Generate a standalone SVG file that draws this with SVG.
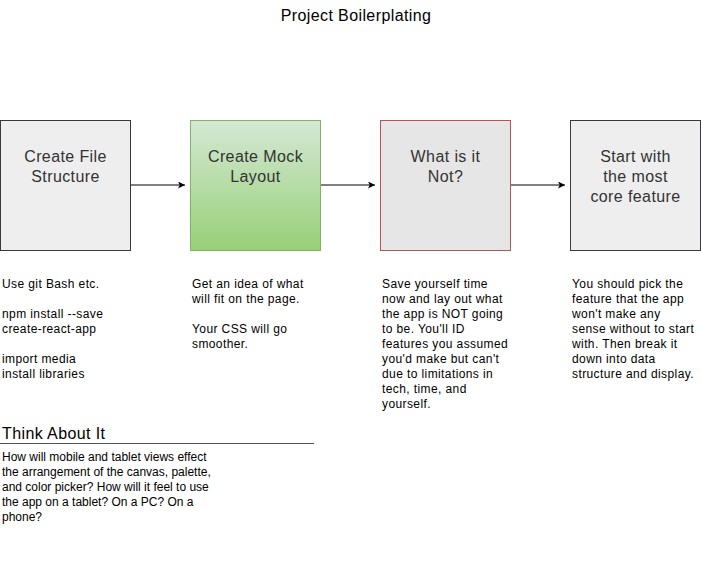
<svg xmlns="http://www.w3.org/2000/svg" width="701" height="574" viewBox="0 0 701 574">
<style>
text{font-family:"Liberation Sans",Arial,Helvetica,sans-serif;letter-spacing:0.4px}
.box-t{font-size:16px;fill:#333333;text-anchor:middle}
.desc{font-size:12px;fill:#000000}
.think{font-size:12px;fill:#000000;letter-spacing:0}
.grey{fill:#eeeeee;stroke:#36393d;stroke-width:1}
.conn{stroke:#000000;stroke-width:1;fill:none}
</style>
<defs>
<linearGradient id="gGreen" x1="0" y1="0" x2="0" y2="1">
<stop offset="0" stop-color="#d5e8d4"/>
<stop offset="1" stop-color="#97d077"/>
</linearGradient>
<marker id="arr" markerWidth="10" markerHeight="10" refX="7" refY="3.5" orient="auto" markerUnits="userSpaceOnUse">
<path d="M0,0 L7,3.5 L0,7 L1.75,3.5 Z" fill="#000000"/>
</marker>
</defs>
<rect width="701" height="574" fill="#ffffff"/>
<text x="356" y="21" font-size="16" text-anchor="middle" fill="#000000">Project Boilerplating</text>

<g id="connectors">
<path class="conn" d="M130.5,185 L185,185" marker-end="url(#arr)"/>
<path class="conn" d="M320.5,185 L375,185" marker-end="url(#arr)"/>
<path class="conn" d="M510.5,185 L565,185" marker-end="url(#arr)"/>
</g>

<g id="node-file-structure">
<rect class="grey" x="0.5" y="120.5" width="130" height="130"/>
<text class="box-t" x="65.5" y="162">Create File</text>
<text class="box-t" x="65.5" y="182">Structure</text>
</g>
<g id="node-mock-layout">
<rect x="190.5" y="120.5" width="130" height="130" fill="url(#gGreen)" stroke="#82b366"/>
<text class="box-t" x="255.5" y="162">Create Mock</text>
<text class="box-t" x="255.5" y="182">Layout</text>
</g>
<g id="node-what-not">
<rect x="380.5" y="120.5" width="130" height="130" fill="#e6e6e6" stroke="#b85450"/>
<text class="box-t" x="445.5" y="162">What is it</text>
<text class="box-t" x="445.5" y="182">Not?</text>
</g>
<g id="node-core-feature">
<rect class="grey" x="570.5" y="120.5" width="130" height="130"/>
<text class="box-t" x="635.5" y="162">Start with</text>
<text class="box-t" x="635.5" y="182">the most</text>
<text class="box-t" x="635.5" y="202">core feature</text>
</g>

<g id="desc-1">
<text class="desc" x="2" y="288">Use git Bash etc.</text>
<text class="desc" x="2" y="318">npm install --save</text>
<text class="desc" x="2" y="333">create-react-app</text>
<text class="desc" x="2" y="363">import media</text>
<text class="desc" x="2" y="378">install libraries</text>
</g>
<g id="desc-2">
<text class="desc" x="192" y="288">Get an idea of what</text>
<text class="desc" x="192" y="303">will fit on the page.</text>
<text class="desc" x="192" y="333">Your CSS will go</text>
<text class="desc" x="192" y="348">smoother.</text>
</g>
<g id="desc-3">
<text class="desc" x="382" y="288">Save yourself time</text>
<text class="desc" x="382" y="303">now and lay out what</text>
<text class="desc" x="382" y="318">the app is NOT going</text>
<text class="desc" x="382" y="333">to be. You'll ID</text>
<text class="desc" x="382" y="348">features you assumed</text>
<text class="desc" x="382" y="363">you'd make but can't</text>
<text class="desc" x="382" y="378">due to limitations in</text>
<text class="desc" x="382" y="393">tech, time, and</text>
<text class="desc" x="382" y="408">yourself.</text>
</g>
<g id="desc-4">
<text class="desc" x="572" y="288">You should pick the</text>
<text class="desc" x="572" y="303">feature that the app</text>
<text class="desc" x="572" y="318">won't make any</text>
<text class="desc" x="572" y="333">sense without to start</text>
<text class="desc" x="572" y="348">with. Then break it</text>
<text class="desc" x="572" y="363">down into data</text>
<text class="desc" x="572" y="378">structure and display.</text>
</g>

<g id="think-about-it">
<text x="2" y="439" font-size="16" fill="#000000">Think About It</text>
<line x1="0" y1="443.5" x2="314" y2="443.5" stroke="#555555" stroke-width="1.2"/>
<text class="think" x="2" y="461">How will mobile and tablet views effect</text>
<text class="think" x="2" y="476">the arrangement of the canvas, palette,</text>
<text class="think" x="2" y="491">and color picker? How will it feel to use</text>
<text class="think" x="2" y="506">the app on a tablet? On a PC? On a</text>
<text class="think" x="2" y="521">phone?</text>
</g>
</svg>
